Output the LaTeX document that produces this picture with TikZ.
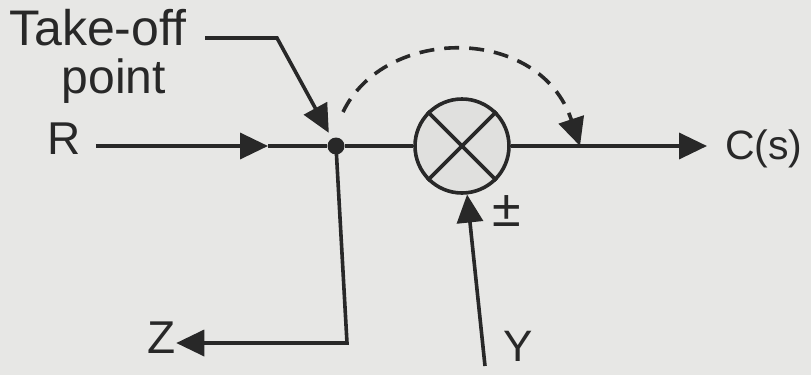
\documentclass[tikz,border=0pt]{standalone}
\usepackage{fontspec}
\setmainfont{Liberation Sans}
\usetikzlibrary{arrows.meta}
\definecolor{paper}{RGB}{231,231,229}
\definecolor{ink}{RGB}{40,40,40}
\definecolor{sumfill}{RGB}{224,224,222}
\tikzset{
  wire/.style={draw=ink, line width=3.6pt},
  tip/.style={-{Triangle[length=28pt,width=26pt]}},
  lbl/.style={text=ink, inner sep=0pt, font=\fontsize{46}{50}\selectfont},
}
\begin{document}
\begin{tikzpicture}[x=1pt,y=-1pt]
\fill[paper] (0,0) rectangle (811,375);
\useasboundingbox (0,0) rectangle (811,375);
% labels
\node[lbl, font=\fontsize{50}{54}\selectfont, anchor=base west] (to) at (9,45) {Take-off};
\node[lbl, font=\fontsize{48}{52}\selectfont, anchor=base] (pt) at (114,93) {point};
\node[lbl] (R) at (64,139) {R};
\node[lbl] (Z) at (162,338) {Z};
\node[lbl, font=\fontsize{44}{48}\selectfont] (Y) at (518,346) {Y};
\node[lbl, font=\fontsize{52}{56}\selectfont] (pm) at (507,211) {±};
\node[lbl, font=\fontsize{41}{45}\selectfont, anchor=west] (C) at (725,149) {C(s)};
% take-off point and summing point
\node[circle, fill=ink, inner sep=0pt, minimum size=17pt] (tk) at (336,146) {};
\node[circle, wire, fill=sumfill, minimum size=94pt, inner sep=0pt] (s) at (462,146) {};
\draw[wire] (s.north west) -- (s.south east);
\draw[wire] (s.north east) -- (s.south west);
% coordinates
\coordinate (m1) at (268,146);
\coordinate (zc) at (347,343);
\coordinate (y0) at (485,366);
\coordinate (p0) at (205,38);
\coordinate (p1) at (277,38);
\coordinate (da) at (343,112);
\coordinate (db) at (580,146);
% connectors
\draw[wire, tip, shorten <=15pt] (R.east |- tk) -- (m1);
\draw[wire] (m1) -- (tk);
\draw[wire] (tk) -- (s);
\draw[wire, tip, shorten >=18pt] (s) -- (C.west |- s);
\draw[wire, tip] (tk.center) -- (zc) -- (zc -| Z.east);
\draw[wire, tip] (y0) -- (s);
\draw[wire, tip, shorten >=15pt] (p0) -- (p1) -- (tk.center);
\draw[wire, tip, dash pattern=on 15pt off 10pt] (da) .. controls (385,25) and (540,25) .. (db);
\end{tikzpicture}
\end{document}
